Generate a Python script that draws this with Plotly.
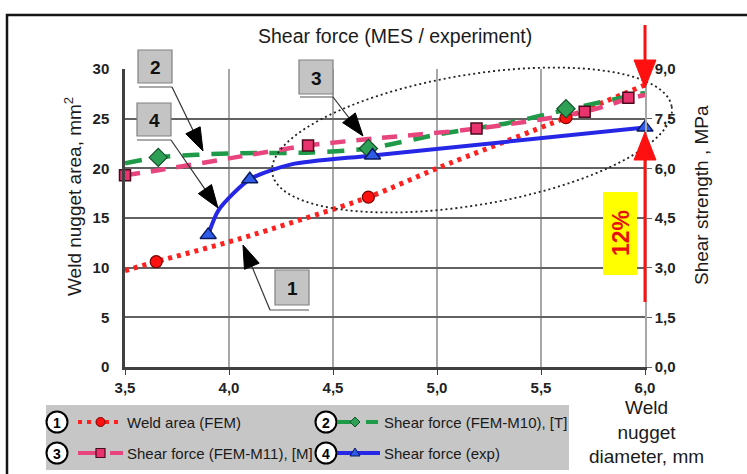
import math
import plotly.graph_objects as go

# ---------------- data ----------------
x_ticks = [3.5, 4.0, 4.5, 5.0, 5.5, 6.0]
y_ticks = [0, 5, 10, 15, 20, 25, 30]
y2_ticks = [0.0, 1.5, 3.0, 4.5, 6.0, 7.5, 9.0]

# 1 - Weld area (FEM)
weld_line_x = [3.5, 3.65, 4.05, 4.67, 5.0, 5.62, 6.0]
weld_line_y = [9.7, 10.6, 12.9, 17.1, 20.0, 25.1, 28.4]
weld_mark_x = [3.65, 4.67, 5.62]
weld_mark_y = [10.6, 17.1, 25.1]

# 2 - Shear force (FEM-M10), [T]
m10_line_x = [3.5, 3.66, 4.0, 4.4, 4.67, 5.0, 5.35, 5.62, 6.0]
m10_line_y = [20.5, 21.1, 21.5, 21.6, 22.0, 23.4, 24.6, 25.9, 27.6]
m10_mark_x = [3.66, 4.67, 5.62]
m10_mark_y = [21.1, 22.0, 26.0]

# 3 - Shear force (FEM-M11), [M]
m11_line_x = [3.5, 3.66, 4.0, 4.38, 4.7, 5.19, 5.71, 5.92, 6.0]
m11_line_y = [19.3, 19.8, 21.0, 22.3, 23.0, 24.0, 25.7, 27.0, 27.4]
m11_mark_x = [3.5, 4.38, 5.19, 5.71, 5.92]
m11_mark_y = [19.3, 22.3, 24.0, 25.7, 27.1]

# 4 - Shear force (exp)
exp_line_x = [3.9, 3.95, 4.1, 4.3, 4.69, 6.0]
exp_line_y = [13.3, 15.8, 18.9, 20.4, 21.3, 24.1]
exp_mark_x = [3.9, 4.1, 4.69, 6.0]
exp_mark_y = [13.3, 18.9, 21.3, 24.1]

legend_labels = ["Weld area (FEM)", "Shear force (FEM-M10), [T]",
                 "Shear force (FEM-M11), [M]", "Shear force (exp)"]

# ---------------- styling ----------------
FONT = "Liberation Sans, Arial, sans-serif"
RED, GREEN, PINK, BLUE = "#ff2020", "#1f9a48", "#e8457e", "#2626e6"
W, H = 747, 474
L, R, T, B = 125, 645, 69, 367


def px(x):
    return (x - L) / (R - L)


def py(y):
    return (B - y) / (B - T)


fig = go.Figure()

fig.add_trace(go.Scatter(x=weld_line_x, y=weld_line_y, mode="lines",
                         line=dict(color=RED, width=5, dash="4px,5px", shape="spline", smoothing=0.8),
                         hoverinfo="skip", showlegend=False))
fig.add_trace(go.Scatter(x=m10_line_x, y=m10_line_y, mode="lines",
                         line=dict(color=GREEN, width=4.5, dash="17px,12px", shape="spline", smoothing=0.8),
                         showlegend=False))
fig.add_trace(go.Scatter(x=m11_line_x, y=m11_line_y, mode="lines",
                         line=dict(color=PINK, width=4.5, dash="15px,11px", shape="spline", smoothing=0.8),
                         showlegend=False))
fig.add_trace(go.Scatter(x=exp_line_x, y=exp_line_y, mode="lines",
                         line=dict(color=BLUE, width=4, shape="spline", smoothing=0.7),
                         showlegend=False))

fig.add_trace(go.Scatter(x=weld_mark_x, y=weld_mark_y, mode="markers", cliponaxis=False,
                         marker=dict(symbol="circle", size=12, color="#ff1010",
                                     line=dict(color="#7a0000", width=1.2)), showlegend=False))
fig.add_trace(go.Scatter(x=m10_mark_x, y=m10_mark_y, mode="markers", cliponaxis=False,
                         marker=dict(symbol="diamond", size=14, color="#2ea055",
                                     line=dict(color="#14502a", width=1.2)), showlegend=False))
fig.add_trace(go.Scatter(x=m11_mark_x, y=m11_mark_y, mode="markers", cliponaxis=False,
                         marker=dict(symbol="square", size=11, color="#e8336f",
                                     line=dict(color="#4a0c1c", width=1.5)), showlegend=False))
fig.add_trace(go.Scatter(x=exp_mark_x, y=exp_mark_y, mode="markers", cliponaxis=False,
                         marker=dict(symbol="triangle-up", size=14, color="#2e5be8",
                                     line=dict(color="#0a1a60", width=1.5)), showlegend=False))
# invisible trace to activate right axis
fig.add_trace(go.Scatter(x=[3.5], y=[0], yaxis="y2", mode="markers",
                         marker=dict(opacity=0), showlegend=False, hoverinfo="skip"))

shapes = []
ann = []

# outer frame
shapes.append(dict(type="rect", xref="paper", yref="paper", x0=px(7), y0=py(15), x1=px(770), y1=py(500),
                   line=dict(color="#151515", width=2.5), layer="below"))


def line(x0, y0, x1, y1, color="#222", width=1.2, dash=None):
    d = dict(type="line", xref="paper", yref="paper", x0=px(x0), y0=py(y0), x1=px(x1), y1=py(y1),
             line=dict(color=color, width=width))
    if dash:
        d["line"]["dash"] = dash
    shapes.append(d)


def tri(tipx, tipy, tailx, taily, length, width, color="black"):
    dx, dy = tipx - tailx, tipy - taily
    n = math.hypot(dx, dy)
    ux, uy = dx / n, dy / n
    bx, by = tipx - ux * length, tipy - uy * length
    pxp, pyp = -uy, ux
    pts = [(tipx, tipy), (bx + pxp * width / 2, by + pyp * width / 2), (bx - pxp * width / 2, by - pyp * width / 2)]
    path = "M " + " L ".join(f"{px(a):.5f},{py(b):.5f}" for a, b in pts) + " Z"
    shapes.append(dict(type="path", xref="paper", yref="paper", path=path,
                       fillcolor=color, line=dict(color=color, width=1)))


# dotted ellipse
cx, cy, a, b, th = 472, 140, 202.5, 65.2, math.radians(9.5)
pts = []
for i in range(121):
    t = 2 * math.pi * i / 120
    ex = cx + a * math.cos(t) * math.cos(th) + b * math.sin(t) * math.sin(th)
    ey = cy - a * math.cos(t) * math.sin(th) + b * math.sin(t) * math.cos(th)
    pts.append((ex, ey))
shapes.append(dict(type="path", xref="paper", yref="paper",
                   path="M " + " L ".join(f"{px(u):.5f},{py(v):.5f}" for u, v in pts),
                   line=dict(color="#222", width=1.8, dash="2px,3px")))

# callout boxes: (x0, y0, x1, y1, label, shadow y, shadow x0, shadow x1, leader start, tip)
callouts = [
    (138, 50, 172, 83, "2", 87, 139, 172, (172, 87), (203, 151)),
    (137, 103, 171, 136, "4", 140, 137, 171, (171, 140), (218, 208)),
    (299, 60, 333, 94, "3", 97, 300, 333, (333, 97), (363, 136)),
    (275, 270, 309, 305, "1", 310, 270, 309, (270, 310), (243, 245)),
]
for x0, y0, x1, y1, lab, sy, sx0, sx1, st, tip in callouts:
    shapes.append(dict(type="rect", xref="paper", yref="paper", x0=px(x0), y0=py(y0), x1=px(x1), y1=py(y1),
                       fillcolor="#c4c4c4", line=dict(color="#808080", width=1.2)))
    line(sx0, sy, sx1, sy, color="#555", width=1.2)
    dx, dy = tip[0] - st[0], tip[1] - st[1]
    n = math.hypot(dx, dy)
    line(st[0], st[1], tip[0] - dx / n * 16, tip[1] - dy / n * 16, color="#333", width=1.2)
    tri(tip[0], tip[1], st[0], st[1], 23, 16)
    ann.append(dict(x=px((x0 + x1) / 2), y=py((y0 + y1) / 2 + 1), xref="paper", yref="paper",
                    text=f"<b>{lab}</b>", showarrow=False, font=dict(family=FONT, size=19, color="#111"),
                    xanchor="center", yanchor="middle"))

# red arrows at x = 6.0
line(645, 25, 645, 64, color="#ff1010", width=3)
tri(645, 88, 645, 25, 28, 22, color="#ff1010")
line(645, 158, 645, 302, color="#ff1010", width=3)
tri(645, 132, 645, 302, 28, 22, color="#ff1010")

# 12% box
shapes.append(dict(type="rect", xref="paper", yref="paper", x0=px(603), y0=py(192), x1=px(637), y1=py(275),
                   fillcolor="#ffff00", line=dict(width=0)))
ann.append(dict(x=px(621), y=py(233), xref="paper", yref="paper", text="<b>12%</b>", textangle=-90,
                showarrow=False, font=dict(family=FONT, size=23, color="#e81010"),
                xanchor="center", yanchor="middle"))

# legend panel
shapes.append(dict(type="rect", xref="paper", yref="paper", x0=px(46), y0=py(405), x1=px(569), y1=py(470),
                   fillcolor="#c6c6c6", line=dict(width=0), layer="below"))


def numcircle(x, y, lab):
    r = 10.5
    shapes.append(dict(type="circle", xref="paper", yref="paper", x0=px(x - r), y0=py(y - r), x1=px(x + r),
                       y1=py(y + r), fillcolor="white", line=dict(color="black", width=2)))
    ann.append(dict(x=px(x), y=py(y + 0.5), xref="paper", yref="paper", text=f"<b>{lab}</b>", showarrow=False,
                    font=dict(family=FONT, size=14, color="black"), xanchor="center", yanchor="middle"))


r1, r2 = 422, 453
numcircle(57, r1, "1")
numcircle(57, r2, "3")
numcircle(326, r1, "2")
numcircle(326, r2, "4")

# legend samples
line(78, r1, 123, r1, color=RED, width=4, dash="4px,5px")
shapes.append(dict(type="circle", xref="paper", yref="paper", x0=px(96), y0=py(r1 - 4.5), x1=px(105),
                   y1=py(r1 + 4.5), fillcolor="#ff1010", line=dict(color="#7a0000", width=1)))
line(78, r2, 96, r2, color=PINK, width=4)
line(110, r2, 123, r2, color=PINK, width=4)
shapes.append(dict(type="rect", xref="paper", yref="paper", x0=px(96), y0=py(r2 - 4.5), x1=px(105),
                   y1=py(r2 + 4.5), fillcolor="#e8336f", line=dict(color="#4a0c1c", width=1.2)))
line(337, r1, 352, r1, color=GREEN, width=4)
line(366, r1, 378, r1, color=GREEN, width=4)
shapes.append(dict(type="path", xref="paper", yref="paper",
                   path=f"M {px(355)},{py(r1-5)} L {px(360)},{py(r1)} L {px(355)},{py(r1+5)} L {px(350)},{py(r1)} Z",
                   fillcolor="#2ea055", line=dict(color="#14502a", width=1)))
line(337, r2, 380, r2, color=BLUE, width=4)
shapes.append(dict(type="path", xref="paper", yref="paper",
                   path=f"M {px(355)},{py(r2-5)} L {px(360)},{py(r2+3)} L {px(350)},{py(r2+3)} Z",
                   fillcolor="#2e5be8", line=dict(color="#0a1a60", width=1)))

for (xx, yy), txt in zip([(125, r1), (382, r1), (125, r2), (382, r2)], legend_labels):
    ann.append(dict(x=px(xx), y=py(yy), xref="paper", yref="paper", text=txt, showarrow=False,
                    font=dict(family=FONT, size=15, color="#1a1a1a"), xanchor="left", yanchor="middle"))

# titles
ann.append(dict(x=px(395), y=py(36), xref="paper", yref="paper", text="Shear force (MES / experiment)",
                showarrow=False, font=dict(family=FONT, size=19.5, color="#1a1a1a"),
                xanchor="center", yanchor="middle"))
ann.append(dict(x=px(73), y=py(197), xref="paper", yref="paper", text="Weld nugget area, mm<sup>2</sup>",
                textangle=-90, showarrow=False, font=dict(family=FONT, size=19, color="#1a1a1a"),
                xanchor="center", yanchor="middle"))
ann.append(dict(x=px(701), y=py(195), xref="paper", yref="paper", text="Shear strength , MPa",
                textangle=-90, showarrow=False, font=dict(family=FONT, size=19, color="#1a1a1a"),
                xanchor="center", yanchor="middle"))
ann.append(dict(x=px(646), y=py(432), xref="paper", yref="paper", text="Weld<br>nugget<br>diameter, mm",
                showarrow=False, font=dict(family=FONT, size=19, color="#1a1a1a"),
                xanchor="center", yanchor="middle", align="center"))

fig.update_layout(
    width=W, height=H,
    margin=dict(l=L, r=W - R, t=T, b=H - B, pad=0),
    paper_bgcolor="white", plot_bgcolor="white",
    separators=", ",
    showlegend=False,
    shapes=shapes, annotations=ann,
    xaxis=dict(range=[3.5, 6.0], tickvals=x_ticks, tickformat=".1f", showgrid=True,
               gridcolor="#a8a8a8", gridwidth=1.5, zeroline=False, showline=True,
               linecolor="#404040", linewidth=2.5, ticks="outside", ticklen=5, tickcolor="#404040",
               tickfont=dict(family=FONT, size=15, color="#222", weight="bold")),
    yaxis=dict(range=[0, 30], tickvals=y_ticks, showgrid=True, gridcolor="#626262", gridwidth=2,
               zeroline=False, showline=True, linecolor="#404040", linewidth=2.5, ticks="",
               ticklabelstandoff=10,
               tickfont=dict(family=FONT, size=15, color="#222", weight="bold")),
    yaxis2=dict(range=[0, 9], tickvals=y2_ticks, tickformat=".1f", overlaying="y", side="right",
                showgrid=False, zeroline=False, showline=True, linecolor="#a8a8a8", linewidth=1.5,
                ticks="outside", ticklen=5, tickcolor="#626262",
                tickfont=dict(family=FONT, size=15, color="#222", weight="bold")),
)

fig.write_html("out.html")
